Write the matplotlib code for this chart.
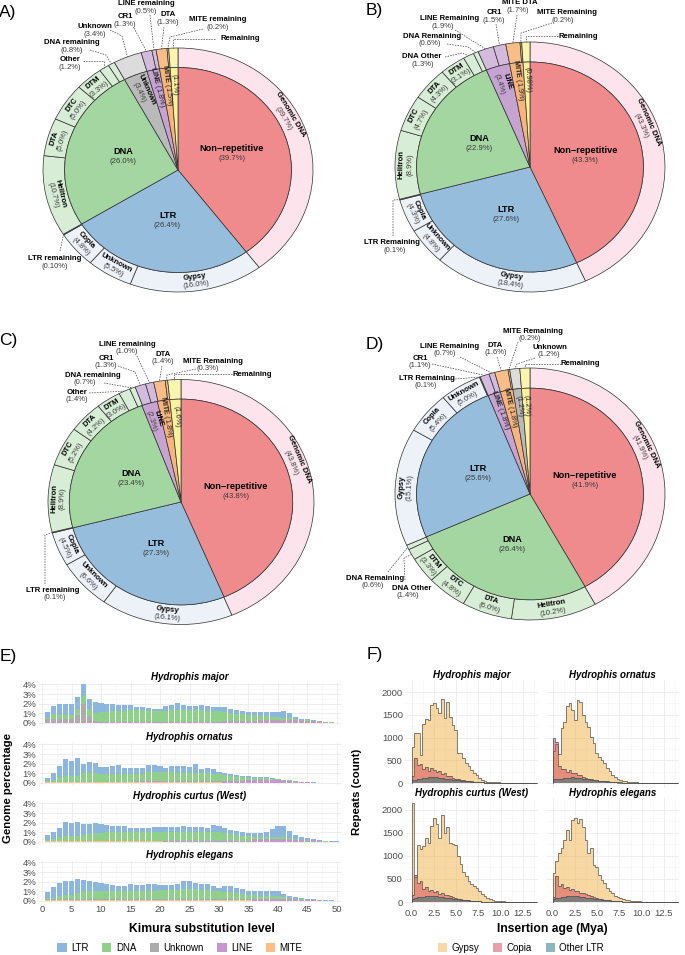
import numpy as np
import matplotlib.pyplot as plt
from matplotlib.patches import Patch

plt.rcParams['font.family'] = ['Liberation Sans', 'DejaVu Sans']
plt.rcParams['mathtext.fontset'] = 'custom'
plt.rcParams['mathtext.rm'] = 'Liberation Sans'
plt.rcParams['mathtext.bf'] = 'Liberation Sans:bold'

W, H = 685, 955

# ---------------- donut data (A-D) ----------------
a_in_name = ['Non−repetitive', 'LTR', 'DNA', 'Unknown', 'LINE', 'MITE', '']
a_in_val = ['39.7', '26.4', '26.0', '3.4', '1.8', '1.5', '1.1']
a_in_grp = ['nonrep', 'ltr', 'dna', 'unk', 'line', 'mite', 'rem']
a_out_name = ['Genomic DNA', 'Gypsy', 'Unknown', 'Copia', 'LTR remaining', 'Helitron', 'DTA', 'DTC', 'DTM',
              'Other', 'DNA remaining', 'Unknown', 'CR1', 'LINE remaining', 'DTA', 'MITE remaining', 'Remaining']
a_out_val = ['39.7', '16.0', '5.5', '4.8', '0.10', '10.7', '5.0', '5.0', '3.3',
             '1.2', '0.8', '3.4', '1.3', '0.5', '1.3', '0.2', '1.1']
a_out_grp = ['nonrep', 'ltr', 'ltr', 'ltr', 'ltr', 'dna', 'dna', 'dna', 'dna',
             'dna', 'dna', 'unk', 'line', 'line', 'mite', 'mite', 'rem']

b_in_name = ['Non−repetitive', 'LTR', 'DNA', 'LINE', 'MITE', '']
b_in_val = ['43.3', '27.6', '22.9', '3.4', '1.9', '0.98']
b_in_grp = ['nonrep', 'ltr', 'dna', 'line', 'mite', 'rem']
b_out_name = ['Genomic DNA', 'Gypsy', 'Unknown', 'Copia', 'LTR Remaining', 'Helitron', 'DTC', 'DTA', 'DTM',
              'DNA Other', 'DNA Remaining', 'LINE Remaining', 'CR1', 'MITE DTA', 'MITE Remaining', 'Remaining']
b_out_val = ['43.3', '18.4', '4.8', '4.3', '0.1', '8.9', '4.7', '4.3', '3.1',
             '1.3', '0.6', '1.9', '1.5', '1.7', '0.2', '0.98']
b_out_grp = ['nonrep', 'ltr', 'ltr', 'ltr', 'ltr', 'dna', 'dna', 'dna', 'dna',
             'dna', 'dna', 'line', 'line', 'mite', 'mite', 'rem']

c_in_name = ['Non−repetitive', 'LTR', 'DNA', 'LINE', 'MITE', '']
c_in_val = ['43.8', '27.3', '23.4', '2.3', '1.8', '1.6']
c_in_grp = ['nonrep', 'ltr', 'dna', 'line', 'mite', 'rem']
c_out_name = ['Genomic DNA', 'Gypsy', 'Unknown', 'Copia', 'LTR remaining', 'Helitron', 'DTC', 'DTA', 'DTM',
              'Other', 'DNA remaining', 'CR1', 'LINE remaining', 'DTA', 'MITE Remaining', 'Remaining']
c_out_val = ['43.8', '16.1', '6.6', '4.5', '0.1', '8.9', '5.2', '4.2', '3.0',
             '1.4', '0.7', '1.3', '1.0', '1.4', '0.3', '1.6']
c_out_grp = ['nonrep', 'ltr', 'ltr', 'ltr', 'ltr', 'dna', 'dna', 'dna', 'dna',
             'dna', 'dna', 'line', 'line', 'mite', 'mite', 'rem']

d_in_name = ['Non−repetitive', 'DNA', 'LTR', 'LINE', 'MITE', '', '']
d_in_val = ['41.9', '26.4', '25.6', '1.8', '1.8', '1.2', '1.2']
d_in_grp = ['nonrep', 'dna', 'ltr', 'line', 'mite', 'unk', 'rem']
d_out_name = ['Genomic DNA', 'Helitron', 'DTA', 'DTC', 'DTM', 'DNA Other', 'DNA Remaining', 'Gypsy', 'Copia',
              'Unknown', 'LTR Remaining', 'CR1', 'LINE Remaining', 'DTA', 'MITE Remaining', 'Unknown', 'Remaining']
d_out_val = ['41.9', '10.2', '6.0', '4.8', '3.3', '1.4', '0.6', '15.1', '5.4',
             '5.0', '0.1', '1.1', '0.7', '1.6', '0.2', '1.2', '1.2']
d_out_grp = ['nonrep', 'dna', 'dna', 'dna', 'dna', 'dna', 'dna', 'ltr', 'ltr',
             'ltr', 'ltr', 'line', 'line', 'mite', 'mite', 'unk', 'rem']

# ---------------- panel E data (genome %, Kimura 1..50) ----------------
kimura = np.arange(1, 51)
ltr_major = [0.55, 0.85, 1.15, 1.15, 1.15, 1.2, 1.2, 1.1, 1.15, 1.0, 0.85, 0.8, 0.7, 0.65, 0.6, 0.4, 0.4, 0.35, 0.3, 0.3,
             0.5, 0.55, 0.75, 0.55, 0.5, 0.5, 0.6, 0.55, 0.45, 0.5, 0.55, 0.45, 0.35, 0.3, 0.25, 0.3, 0.35, 0.4, 0.45, 0.5,
             0.65, 0.45, 0.15, 0.1, 0.1, 0.1, 0.05, 0.02, 0.02, 0.01]
dna_major = [0.13, 0.48, 0.48, 0.48, 0.48, 0.63, 0.78, 0.68, 0.83, 0.99, 1.01, 1.06, 1.06, 1.11, 1.16, 1.16, 1.16, 1.11, 1.06, 1.06,
             1.11, 1.16, 1.21, 1.21, 1.16, 1.17, 1.17, 1.12, 1.12, 1.07, 0.93, 0.88, 0.78, 0.73, 0.68, 0.64, 0.49, 0.44, 0.39, 0.34,
             0.29, 0.29, 0.19, 0.09, 0.12, 0.08, 0.03, 0.02, 0.01, 0.0]
unk_major = [0.35, 0.35, 0.3, 0.3, 0.3, 0.8, 1.95, 0.65, 0.1, 0.04, 0.04, 0.04, 0.04, 0.04, 0.04, 0.04, 0.04, 0.04, 0.04, 0.04,
             0.04, 0.04, 0.04, 0.04, 0.04, 0.04, 0.04, 0.04, 0.04, 0.04, 0.04, 0.04, 0.04, 0.04, 0.04, 0.04, 0.04, 0.04, 0.04, 0.04,
             0.04, 0.04, 0.04, 0.04, 0.04, 0.04, 0.04, 0.02, 0.01, 0.0]
line_major = [0.03, 0.03, 0.03, 0.03, 0.03, 0.03, 0.03, 0.03, 0.03, 0.03, 0.06, 0.06, 0.06, 0.06, 0.06, 0.06, 0.06, 0.06, 0.06, 0.06,
              0.06, 0.06, 0.06, 0.06, 0.06, 0.06, 0.06, 0.06, 0.06, 0.06, 0.1, 0.1, 0.1, 0.1, 0.1, 0.1, 0.2, 0.2, 0.2, 0.2,
              0.2, 0.2, 0.2, 0.2, 0.12, 0.12, 0.12, 0.03, 0.02, 0.01]
mite_major = [0.04, 0.04, 0.04, 0.04, 0.04, 0.04, 0.04, 0.04, 0.04, 0.04, 0.04, 0.04, 0.04, 0.04, 0.04, 0.04, 0.04, 0.04, 0.04, 0.04,
              0.04, 0.04, 0.04, 0.04, 0.04, 0.03, 0.03, 0.03, 0.03, 0.03, 0.03, 0.03, 0.03, 0.03, 0.03, 0.02, 0.02, 0.02, 0.02, 0.02,
              0.02, 0.02, 0.02, 0.02, 0.02, 0.01, 0.01, 0.01, 0.01, 0.01]

ltr_orn = [0.3, 0.7, 1.2, 1.8, 1.6, 1.85, 1.0, 1.15, 1.05, 0.75, 0.75, 0.85, 0.9, 0.65, 0.65, 0.65, 0.65, 0.8, 0.8, 0.7,
           0.5, 0.7, 0.8, 0.75, 0.7, 0.95, 0.5, 0.6, 0.45, 0.25, 0.25, 0.2, 0.2, 0.15, 0.15, 0.15, 0.12, 0.13, 0.08, 0.07,
           0.05, 0.04, 0.03, 0.03, 0.02, 0.01, 0.01, 0.01, 0.0, 0.0]
dna_orn = [0.06, 0.16, 0.46, 0.56, 0.56, 0.56, 0.86, 0.86, 0.86, 0.81, 0.81, 0.81, 0.81, 0.81, 0.81, 0.75, 0.75, 0.9, 0.9, 0.9,
           0.92, 0.92, 0.82, 0.82, 0.82, 0.82, 0.82, 0.82, 0.77, 0.72, 0.6, 0.55, 0.45, 0.4, 0.22, 0.17, 0.15, 0.14, 0.09, 0.05,
           0.06, 0.04, 0.03, 0.01, 0.0, 0.0, 0.0, 0.0, 0.0, 0.0]
unk_orn = [0.03, 0.03, 0.03, 0.03, 0.03, 0.03, 0.03, 0.03, 0.03, 0.03, 0.03, 0.03, 0.03, 0.03, 0.03, 0.03, 0.03, 0.03, 0.03, 0.03,
           0.03, 0.03, 0.03, 0.03, 0.03, 0.03, 0.03, 0.03, 0.03, 0.03, 0.03, 0.03, 0.03, 0.03, 0.03, 0.03, 0.03, 0.03, 0.03, 0.03,
           0.03, 0.03, 0.03, 0.03, 0.03, 0.01, 0.01, 0.01, 0.01, 0.01]
line_orn = [0.04, 0.04, 0.04, 0.04, 0.04, 0.04, 0.04, 0.04, 0.04, 0.04, 0.04, 0.04, 0.04, 0.04, 0.04, 0.1, 0.1, 0.1, 0.1, 0.1,
            0.1, 0.1, 0.1, 0.1, 0.1, 0.1, 0.1, 0.1, 0.1, 0.1, 0.15, 0.15, 0.15, 0.15, 0.28, 0.28, 0.28, 0.28, 0.28, 0.28,
            0.2, 0.18, 0.1, 0.07, 0.05, 0.02, 0.01, 0.01, 0.01, 0.01]
mite_orn = [0.07, 0.07, 0.07, 0.07, 0.07, 0.07, 0.07, 0.07, 0.07, 0.07, 0.07, 0.07, 0.07, 0.07, 0.07, 0.07, 0.07, 0.07, 0.07, 0.07,
            0.05, 0.05, 0.05, 0.05, 0.05, 0.05, 0.05, 0.05, 0.05, 0.05, 0.02, 0.02, 0.02, 0.02, 0.02, 0.02, 0.02, 0.02, 0.02, 0.02,
            0.01, 0.01, 0.01, 0.01, 0.01, 0.01, 0.01, 0.01, 0.01, 0.01]

ltr_west = [0.55, 0.7, 0.9, 1.5, 1.35, 1.45, 1.15, 1.1, 1.1, 0.9, 0.75, 0.7, 0.65, 0.65, 0.5, 0.5, 0.5, 0.5, 0.55, 0.5,
            0.5, 0.55, 0.5, 0.65, 0.55, 0.5, 0.5, 0.5, 0.75, 0.7, 0.5, 0.4, 0.35, 0.35, 0.3, 0.35, 0.4, 0.5, 0.8, 1.15,
            1.15, 0.75, 0.45, 0.25, 0.2, 0.15, 0.1, 0.05, 0.02, 0.01]
dna_west = [0.06, 0.16, 0.41, 0.46, 0.46, 0.51, 0.56, 0.66, 0.76, 0.81, 0.86, 0.86, 0.86, 0.86, 0.86, 0.86, 0.86, 0.86, 0.86, 0.91,
            0.9, 0.9, 0.9, 0.9, 0.9, 0.9, 0.9, 0.85, 0.85, 0.85, 0.8, 0.7, 0.6, 0.5, 0.45, 0.28, 0.23, 0.23, 0.23, 0.23,
            0.23, 0.13, 0.1, 0.08, 0.05, 0.03, 0.0, 0.01, 0.0, 0.0]
unk_west = [0.03, 0.03, 0.03, 0.03, 0.03, 0.03, 0.03, 0.03, 0.03, 0.03, 0.03, 0.03, 0.03, 0.03, 0.03, 0.03, 0.03, 0.03, 0.03, 0.03,
            0.03, 0.03, 0.03, 0.03, 0.03, 0.03, 0.03, 0.03, 0.03, 0.03, 0.03, 0.03, 0.03, 0.03, 0.03, 0.03, 0.03, 0.03, 0.03, 0.03,
            0.03, 0.03, 0.03, 0.03, 0.03, 0.01, 0.01, 0.01, 0.01, 0.01]
line_west = [0.05, 0.05, 0.05, 0.05, 0.05, 0.05, 0.05, 0.05, 0.05, 0.05, 0.05, 0.05, 0.05, 0.05, 0.05, 0.05, 0.05, 0.05, 0.05, 0.05,
             0.08, 0.08, 0.08, 0.08, 0.08, 0.08, 0.08, 0.08, 0.08, 0.08, 0.08, 0.08, 0.08, 0.08, 0.08, 0.22, 0.22, 0.22, 0.22, 0.22,
             0.22, 0.22, 0.15, 0.12, 0.1, 0.1, 0.1, 0.02, 0.02, 0.02]
mite_west = [0.06, 0.06, 0.06, 0.06, 0.06, 0.06, 0.06, 0.06, 0.06, 0.06, 0.06, 0.06, 0.06, 0.06, 0.06, 0.06, 0.06, 0.06, 0.06, 0.06,
             0.04, 0.04, 0.04, 0.04, 0.04, 0.04, 0.04, 0.04, 0.04, 0.04, 0.04, 0.04, 0.04, 0.04, 0.04, 0.02, 0.02, 0.02, 0.02, 0.02,
             0.02, 0.02, 0.02, 0.02, 0.02, 0.01, 0.01, 0.01, 0.01, 0.01]

ltr_eleg = [0.65, 1.05, 1.35, 1.5, 1.45, 1.4, 1.15, 1.1, 1.0, 0.9, 0.75, 0.65, 0.5, 0.5, 0.75, 0.65, 0.65, 0.7, 0.7, 0.6,
            0.5, 0.55, 0.6, 0.85, 0.85, 0.7, 0.65, 0.65, 0.5, 0.35, 0.6, 0.65, 0.55, 0.5, 0.4, 0.42, 0.45, 0.45, 0.55, 0.55,
            0.35, 0.25, 0.15, 0.1, 0.1, 0.07, 0.04, 0.02, 0.01, 0.0]
dna_eleg = [0.14, 0.19, 0.39, 0.44, 0.49, 0.69, 0.84, 0.84, 0.84, 0.84, 0.84, 0.84, 0.89, 0.89, 0.89, 0.89, 0.89, 0.89, 0.89, 0.94,
            0.99, 0.99, 0.99, 1.04, 1.04, 1.04, 0.99, 0.94, 0.89, 0.84, 0.79, 0.74, 0.64, 0.54, 0.44, 0.33, 0.3, 0.3, 0.25, 0.25,
            0.15, 0.05, 0.08, 0.05, 0.03, 0.01, 0.0, 0.0, 0.0, 0.0]
unk_eleg = [0.03, 0.03, 0.03, 0.03, 0.03, 0.03, 0.03, 0.03, 0.03, 0.03, 0.03, 0.03, 0.03, 0.03, 0.03, 0.03, 0.03, 0.03, 0.03, 0.03,
            0.03, 0.03, 0.03, 0.03, 0.03, 0.03, 0.03, 0.03, 0.03, 0.03, 0.03, 0.03, 0.03, 0.03, 0.03, 0.03, 0.03, 0.03, 0.03, 0.03,
            0.03, 0.03, 0.03, 0.03, 0.03, 0.01, 0.01, 0.01, 0.01, 0.01]
line_eleg = [0.05, 0.05, 0.05, 0.05, 0.05, 0.05, 0.05, 0.05, 0.05, 0.05, 0.05, 0.05, 0.05, 0.05, 0.05, 0.05, 0.05, 0.05, 0.05, 0.05,
             0.08, 0.08, 0.08, 0.08, 0.08, 0.08, 0.08, 0.08, 0.08, 0.08, 0.08, 0.08, 0.08, 0.08, 0.08, 0.2, 0.2, 0.2, 0.2, 0.2,
             0.2, 0.2, 0.12, 0.1, 0.07, 0.07, 0.07, 0.02, 0.02, 0.02]
mite_eleg = [0.08, 0.08, 0.08, 0.08, 0.08, 0.08, 0.08, 0.08, 0.08, 0.08, 0.08, 0.08, 0.08, 0.08, 0.08, 0.08, 0.08, 0.08, 0.08, 0.08,
             0.05, 0.05, 0.05, 0.05, 0.05, 0.05, 0.05, 0.05, 0.05, 0.05, 0.05, 0.05, 0.05, 0.05, 0.05, 0.02, 0.02, 0.02, 0.02, 0.02,
             0.02, 0.02, 0.02, 0.02, 0.02, 0.01, 0.01, 0.01, 0.01, 0.01]

e_species = ['Hydrophis major', 'Hydrophis ornatus', 'Hydrophis curtus (West)', 'Hydrophis elegans']
e_series = [
    dict(LTR=ltr_major, DNA=dna_major, Unknown=unk_major, LINE=line_major, MITE=mite_major),
    dict(LTR=ltr_orn, DNA=dna_orn, Unknown=unk_orn, LINE=line_orn, MITE=mite_orn),
    dict(LTR=ltr_west, DNA=dna_west, Unknown=unk_west, LINE=line_west, MITE=mite_west),
    dict(LTR=ltr_eleg, DNA=dna_eleg, Unknown=unk_eleg, LINE=line_eleg, MITE=mite_eleg),
]

# ---------------- panel F data (LTR counts per 0.3 Mya bin) ----------------
age_edges = np.arange(48) * 0.3
gypsy_major = [800, 1100, 1100, 620, 1300, 1400, 1380, 1720, 1750, 1640, 1530, 1850, 1420, 1780, 1450, 1270, 1160, 660, 650, 560,
               450, 370, 290, 230, 170, 110, 75, 45, 30, 25, 20, 18, 15, 12, 10, 8, 8, 6, 5, 4, 3, 3, 2, 2, 1, 1, 1]
copia_major = [160, 560, 400, 430, 300, 350, 260, 330, 280, 250, 270, 200, 220, 160, 150, 120, 100, 85, 70, 60,
               50, 42, 35, 28, 22, 18, 14, 11, 9, 7, 6, 5, 4, 3, 3, 2, 2, 2, 1, 1, 1, 1, 0, 0, 0, 0, 0]
other_major = [60, 75, 85, 95, 105, 115, 125, 135, 130, 125, 115, 105, 95, 90, 80, 75, 68, 60, 55, 48,
               42, 36, 30, 25, 21, 17, 14, 11, 9, 7, 6, 5, 4, 3, 3, 2, 2, 2, 1, 1, 1, 1, 0, 0, 0, 0, 0]
gypsy_orn = [700, 850, 640, 1200, 1350, 1700, 1750, 1600, 1380, 1820, 1780, 1490, 1350, 1240, 1020, 870, 650, 580, 510, 440,
             330, 260, 180, 130, 90, 60, 45, 35, 28, 22, 18, 14, 11, 9, 7, 6, 5, 4, 3, 3, 2, 2, 1, 1, 1, 1, 0]
copia_orn = [1000, 900, 380, 300, 320, 250, 280, 220, 230, 180, 170, 140, 120, 100, 85, 70, 60, 50, 42, 35,
             28, 22, 18, 14, 11, 9, 7, 6, 5, 4, 3, 3, 2, 2, 1, 1, 1, 1, 1, 0, 0, 0, 0, 0, 0, 0, 0]
other_orn = [80, 90, 95, 100, 105, 110, 120, 125, 120, 115, 110, 100, 90, 85, 78, 70, 62, 55, 48, 42,
             36, 30, 25, 21, 17, 14, 11, 9, 7, 6, 5, 4, 3, 3, 2, 2, 2, 1, 1, 1, 1, 0, 0, 0, 0, 0, 0]
gypsy_west = [2150, 550, 1230, 1150, 1220, 1380, 1280, 1660, 1820, 1700, 1400, 1880, 1500, 1620, 1280, 1260, 1240, 1000, 820, 660,
              570, 460, 400, 350, 300, 230, 170, 120, 80, 55, 40, 30, 22, 18, 14, 11, 9, 7, 6, 5, 4, 3, 2, 2, 1, 1, 1]
copia_west = [150, 580, 420, 450, 280, 330, 240, 260, 220, 230, 180, 200, 160, 150, 120, 100, 85, 70, 60, 50,
              42, 35, 28, 22, 18, 14, 11, 9, 7, 6, 5, 4, 3, 3, 2, 2, 1, 1, 1, 1, 0, 0, 0, 0, 0, 0, 0]
other_west = [70, 90, 100, 110, 115, 120, 130, 135, 130, 120, 115, 105, 95, 85, 78, 70, 62, 55, 48, 42,
              36, 30, 25, 21, 17, 14, 11, 9, 7, 6, 5, 4, 3, 3, 2, 2, 2, 1, 1, 1, 1, 0, 0, 0, 0, 0, 0]
gypsy_eleg = [630, 880, 1060, 1170, 1350, 1570, 1350, 1780, 1820, 1710, 1800, 1620, 1350, 1060, 1170, 810, 770, 590, 480, 410,
              300, 230, 195, 140, 110, 80, 65, 45, 35, 28, 22, 18, 14, 11, 9, 7, 6, 5, 4, 3, 3, 2, 2, 1, 1, 1, 0]
copia_eleg = [100, 560, 350, 400, 300, 320, 260, 280, 230, 250, 200, 190, 170, 150, 130, 110, 90, 75, 62, 50,
              42, 35, 28, 22, 18, 14, 11, 9, 7, 6, 5, 4, 3, 3, 2, 2, 1, 1, 1, 1, 0, 0, 0, 0, 0, 0, 0]
other_eleg = [70, 85, 95, 105, 110, 120, 130, 140, 135, 125, 115, 105, 95, 85, 78, 70, 62, 55, 48, 42,
              36, 30, 25, 21, 17, 14, 11, 9, 7, 6, 5, 4, 3, 3, 2, 2, 2, 1, 1, 1, 1, 0, 0, 0, 0, 0, 0]
f_series = [
    dict(Gypsy=gypsy_major, Copia=copia_major, Other=other_major),
    dict(Gypsy=gypsy_orn, Copia=copia_orn, Other=other_orn),
    dict(Gypsy=gypsy_west, Copia=copia_west, Other=other_west),
    dict(Gypsy=gypsy_eleg, Copia=copia_eleg, Other=other_eleg),
]

# ---------------- styles ----------------
inner_colors = {'nonrep': '#F08B8D', 'ltr': '#97BDDD', 'dna': '#A3D6A0', 'unk': '#B9BAB9',
                'line': '#C7A3D2', 'mite': '#F7B57C', 'rem': '#F9F29D'}
ring_colors = {'nonrep': '#FCE3EC', 'ltr': '#EDF2F9', 'dna': '#D8EDD5', 'unk': '#DCDCDC',
               'line': '#D4BBDE', 'mite': '#F8BD88', 'rem': '#FAF5AE'}
EDGE = '#303030'
PCT = '#3A3A3A'
e_colors = {'LTR': '#8DB6DE', 'DNA': '#8FD08B', 'Unknown': '#ABACAB', 'LINE': '#C596CF', 'MITE': '#FBBF83'}
f_colors = {'Gypsy': '#F1B347', 'Copia': '#D34555', 'Other': '#1F6F7A'}

fig = plt.figure(figsize=(W / 100, H / 100), dpi=100)


def px_axes(x0, y0, x1, y1):
    return fig.add_axes([x0 / W, 1 - y1 / H, (x1 - x0) / W, (y1 - y0) / H])


def mid_angles(vals):
    frac = vals / vals.sum()
    cum = np.concatenate([[0], np.cumsum(frac)])
    return 90 - 360 * (cum[:-1] + cum[1:]) / 2


def polar(th, r):
    t = np.radians(th)
    return r * np.cos(t), r * np.sin(t)


def two_line(ax, x, y, name, pct, rot, s1, s2, gap):
    ux, uy = -np.sin(np.radians(rot)), np.cos(np.radians(rot))
    ax.annotate(name, (x, y), xytext=(ux * gap, uy * gap), textcoords='offset points', rotation=rot,
                ha='center', va='center', rotation_mode='anchor', fontsize=s1, fontweight='bold',
                annotation_clip=False)
    ax.annotate(pct, (x, y), xytext=(-ux * gap, -uy * gap), textcoords='offset points', rotation=rot,
                ha='center', va='center', rotation_mode='anchor', fontsize=s2, color=PCT,
                annotation_clip=False)


def draw_donut(geo, in_name, in_val, in_grp, out_name, out_val, out_grp, ring, radial, calls):
    cx, cy, rx, ry = geo
    ax = px_axes(cx - rx, cy - ry, cx + rx, cy + ry)
    ov = np.array(out_val, float)
    iv = np.array(in_val, float)
    ax.pie(ov, radius=1.0, colors=[ring_colors[g] for g in out_grp], startangle=90, counterclock=False,
           wedgeprops=dict(width=0.16, edgecolor=EDGE, linewidth=0.5))
    ax.pie(iv, radius=0.84, colors=[inner_colors[g] for g in in_grp], startangle=90, counterclock=False,
           wedgeprops=dict(edgecolor=EDGE, linewidth=0.5))
    ax.set_aspect('auto')
    ax.set_xlim(-1, 1)
    ax.set_ylim(-1, 1)
    ax.axis('off')

    def to_data(p):
        return (p[0] - cx) / rx, (cy - p[1]) / ry

    oth = mid_angles(ov)
    ith = mid_angles(iv)

    # labels inside the outer ring, following the ring
    for i in ring:
        th = oth[i] + (10 if i == 0 else 0)
        t = np.radians(th)
        phi = np.degrees(np.arctan2(ry * np.cos(t), -rx * np.sin(t)))
        rot = phi - 180 if np.sin(t) >= -1e-9 else phi
        x, y = polar(th, 0.92)
        two_line(ax, x, y, out_name[i], f'({out_val[i]}%)', rot, 5.5, 5.5, 3.0)

    # big inner slices
    for i in range(3):
        x, y = polar(ith[i], 0.42)
        two_line(ax, x, y, in_name[i], f'({in_val[i]}%)', 0, 6.6, 5.6, 3.6)

    # thin inner slices, radial text
    for i, kind in radial.items():
        t = np.radians(ith[i])
        psi = np.degrees(np.arctan2(ry * np.sin(t), rx * np.cos(t)))
        rot = psi - 180
        x, y = polar(ith[i], 0.70)
        if kind == 2:
            two_line(ax, x, y, in_name[i], f'({in_val[i]}%)', rot, 5.3, 5.3, 3.0)
        else:
            s = rf'$\mathbf{{{in_name[i]}}}$ ({in_val[i]}%)' if kind == 1 else f'({in_val[i]}%)'
            ax.text(x, y, s, rotation=rot, rotation_mode='anchor', ha='center', va='center',
                    fontsize=5.3, color='#222222')

    # call-out labels with dashed leaders
    for i, (tx, ty), pdx, start, elbow in calls:
        t = np.radians(oth[i])
        end_px = (cx + rx * np.cos(t), cy - ry * np.sin(t))
        pts = [start]
        if elbow == 'v':
            pts.append((end_px[0], start[1]))
        elif elbow is not None:
            pts.append(elbow)
        pts.append(end_px)
        dpts = [to_data(p) for p in pts]
        ax.plot([p[0] for p in dpts], [p[1] for p in dpts], ls=(0, (2.2, 1.6)), color='#444444',
                lw=0.5, clip_on=False)
        x, y = to_data((tx, ty))
        ax.text(x, y, out_name[i], ha='center', va='center', fontsize=5.6, fontweight='bold')
        if out_name[i] != 'Remaining':
            x, y = to_data((tx + pdx, ty + 7.8))
            ax.text(x, y, f'({out_val[i]}%)', ha='center', va='center', fontsize=5.5, color=PCT)


# panel layouts: (cx, cy, rx, ry) in pixels, callout positions in pixels
a_calls = [(4, (55, 259), 0, (60, 251), None), (9, (70, 60), 0, (83, 61), 'v'),
           (10, (72, 43), 0, (90, 50), (106, 55)), (11, (95, 27), 0, (110, 30), (122, 36)),
           (12, (125, 17), 0, (134, 28), None), (13, (146, 4), 0, (150, 15), None),
           (14, (168, 15), 0, (164, 27), None), (15, (218, 20), 0, (203, 29), (170, 37)),
           (16, (240, 39), 0, (215, 39), 'v')]
b_calls = [(4, (392, 243), 3, (393, 236), (393, 200)), (9, (422, 57), 1, (445, 57), (462, 53)),
           (10, (432, 36), -2, (447, 44), (468, 47)), (11, (450, 19), -7, (455, 30), None),
           (12, (494, 13), 0, (496, 24), None), (13, (520, 3), -2, (517, 15), None),
           (14, (567, 13), -4, (552, 23), (521, 33)), (15, (578, 36), 0, (558, 36), 'v')]
c_calls = [(4, (53, 590), 2, (45, 584), (45, 535)), (9, (77, 392), 0, (89, 393), None),
           (10, (93, 375), -8, (104, 383), None), (11, (106, 358), 0, (118, 366), (135, 372)),
           (12, (127, 344), 0, (137, 356), None), (13, (163, 354), 0, (162, 366), None),
           (14, (213, 361), -5, (196, 369), (167, 375)), (15, (252, 374), 0, (232, 374), 'v')]
d_calls = [(5, (412, 588), -4, (405, 580), (404, 558)), (6, (375, 578), -2, (388, 572), None),
           (10, (427, 378), -1, (442, 380), None), (11, (420, 358), 0, (432, 364), None),
           (12, (450, 346), -5, (460, 357), None), (13, (495, 345), 1, (497, 357), None),
           (14, (533, 331), -3, (518, 342), None), (15, (550, 347), -1, (535, 358), (517, 364)),
           (16, (580, 363), 0, (561, 364), 'v')]

draw_donut((178, 170, 135, 122), a_in_name, a_in_val, a_in_grp, a_out_name, a_out_val, a_out_grp,
           [0, 1, 2, 3, 5, 6, 7, 8], {3: 2, 4: 1, 5: 1, 6: 0}, a_calls)
draw_donut((530, 167, 135, 125), b_in_name, b_in_val, b_in_grp, b_out_name, b_out_val, b_out_grp,
           [0, 1, 2, 3, 5, 6, 7, 8], {3: 2, 4: 1, 5: 0}, b_calls)
draw_donut((181, 502, 133, 122.5), c_in_name, c_in_val, c_in_grp, c_out_name, c_out_val, c_out_grp,
           [0, 1, 2, 3, 5, 6, 7, 8], {3: 2, 4: 1, 5: 0}, c_calls)
draw_donut((530, 494, 135, 126), d_in_name, d_in_val, d_in_grp, d_out_name, d_out_val, d_out_grp,
           [0, 1, 2, 3, 4, 7, 8, 9], {3: 1, 4: 1, 5: 0, 6: 0}, d_calls)


def minimal(ax):
    for s in ax.spines.values():
        s.set_visible(False)
    ax.set_axisbelow(True)
    ax.grid(which='major', color='#EBEBEB', lw=0.6)
    ax.grid(which='minor', color='#F4F4F4', lw=0.4)
    ax.tick_params(which='both', length=0, labelsize=6.8, colors='#4D4D4D', pad=1.5)


# ---------------- panel E ----------------
e_zero = [723, 783, 842, 901]
stack = ['MITE', 'LINE', 'Unknown', 'DNA', 'LTR']
for k, (sp, ser) in enumerate(zip(e_species, e_series)):
    y0 = e_zero[k]
    ax = px_axes(38.5, y0 - 40.5, 340.5, y0 + 1.9)
    bottom = np.zeros(len(kimura))
    for key in stack:
        vals = np.array(ser[key])
        ax.bar(kimura, vals, width=0.86, bottom=bottom, color=e_colors[key], linewidth=0)
        bottom += vals
    ax.set_xlim(-0.6, 50.6)
    ax.set_ylim(-0.2, 4.2)
    ax.set_yticks([0, 1, 2, 3, 4])
    ax.set_yticklabels(['0%', '1%', '2%', '3%', '4%'])
    ax.set_yticks(np.arange(0.5, 4.1, 1), minor=True)
    ax.set_xticks(np.arange(0, 51, 5))
    ax.set_xticks(np.arange(2.5, 50, 5), minor=True)
    if k < 3:
        ax.set_xticklabels([])
    minimal(ax)
    ax.set_title(sp, fontsize=7, fontweight='bold', fontstyle='italic', pad=1.5)

fig.text(202 / W, 1 - 929 / H, 'Kimura substitution level', ha='center', va='center', fontsize=8.7,
         fontweight='bold')
fig.text(8 / W, 1 - 788 / H, 'Genome percentage', ha='center', va='center', fontsize=8.2,
         fontweight='bold', rotation=90)
fig.legend(handles=[Patch(facecolor=e_colors[k], label=k) for k in ['LTR', 'DNA', 'Unknown', 'LINE', 'MITE']],
           loc='center', bbox_to_anchor=(180 / W, 1 - 948 / H), ncol=5, frameon=False, fontsize=7,
           handlelength=0.95, handleheight=0.95, handletextpad=0.45, columnspacing=1.4, borderpad=0)

# ---------------- panel F ----------------
f_species = ['Hydrophis major', 'Hydrophis ornatus', 'Hydrophis curtus (West)', 'Hydrophis elegans']
f_cols_px = [(405, 538), (546, 679)]
f_rows_px = [(680.3, 788), (798, 907)]
for k, (sp, ser) in enumerate(zip(f_species, f_series)):
    r, c = divmod(k, 2)
    ax = px_axes(f_cols_px[c][0], f_rows_px[r][0], f_cols_px[c][1], f_rows_px[r][1])
    for key in ['Gypsy', 'Copia', 'Other']:
        vals = np.array(ser[key], float)
        ax.stairs(vals, age_edges, fill=True, color=f_colors[key], alpha=0.5, lw=0)
        ax.stairs(vals, age_edges, color='#505050', lw=0.55, alpha=0.9)
    ax.set_xlim(-0.75, 14.2)
    ax.set_ylim(-108, 2258)
    ax.set_xticks([0, 2.5, 5, 7.5, 10, 12.5])
    ax.set_xticks(np.arange(1.25, 14, 2.5), minor=True)
    ax.set_yticks([0, 500, 1000, 1500, 2000])
    ax.set_yticks([250, 750, 1250, 1750], minor=True)
    if r == 0:
        ax.set_xticklabels([])
    else:
        ax.set_xticklabels(['0.0', '2.5', '5.0', '7.5', '10.0', '12.5'])
    if c == 1:
        ax.set_yticklabels([])
    minimal(ax)
    ax.set_title(sp, fontsize=7, fontweight='bold', fontstyle='italic', pad=1.5)

fig.text(552 / W, 1 - 929 / H, 'Insertion age (Mya)', ha='center', va='center', fontsize=8.7,
         fontweight='bold')
fig.text(357 / W, 1 - 792 / H, 'Repeats (count)', ha='center', va='center', fontsize=8.2,
         fontweight='bold', rotation=90)
fig.legend(handles=[Patch(facecolor=f_colors[k], alpha=0.5, label=lab)
                    for k, lab in [('Gypsy', 'Gypsy'), ('Copia', 'Copia'), ('Other', 'Other LTR')]],
           loc='center', bbox_to_anchor=(521 / W, 1 - 948 / H), ncol=3, frameon=False, fontsize=7,
           handlelength=0.95, handleheight=0.95, handletextpad=0.45, columnspacing=1.4, borderpad=0)

# panel letters
for lab, x, y in [('A)', 8, 12), ('B)', 374, 11), ('C)', 8, 340), ('D)', 375, 345), ('E)', 8, 656), ('F)', 375, 654)]:
    fig.text(x / W, 1 - y / H, lab, ha='center', va='center', fontsize=12.5)

fig.savefig('out.png', dpi=100)
